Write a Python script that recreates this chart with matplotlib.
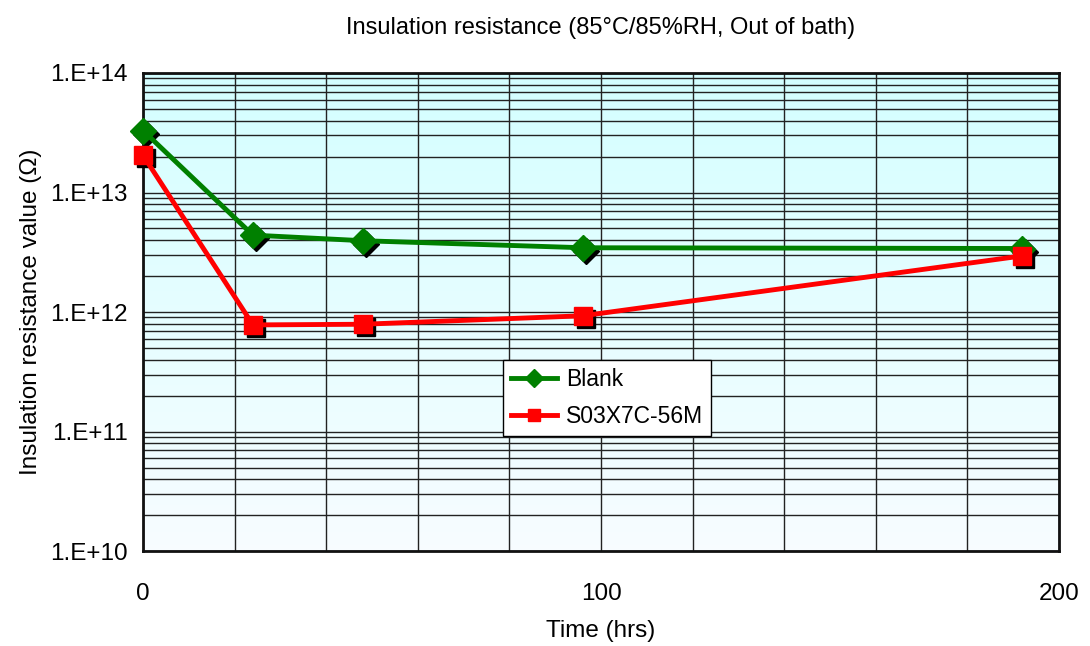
import numpy as np
import matplotlib
matplotlib.use("Agg")
import matplotlib.pyplot as plt
import matplotlib.transforms as mtransforms
from matplotlib.ticker import FixedLocator, FuncFormatter, LogLocator, NullFormatter

plt.rcParams['font.family'] = ['Liberation Sans', 'DejaVu Sans']

# Données
temps = [0, 24, 48, 96, 192]
blank = [3.3e13, 4.4e12, 3.95e12, 3.45e12, 3.4e12]
s03 = [2.05e13, 7.8e11, 7.9e11, 9.3e11, 2.95e12]
noms = ["Blank", "S03X7C-56M"]

fig = plt.figure(figsize=(10.9, 6.46), dpi=100)
ax = fig.add_axes([0.1312, 0.147, 0.8404, 0.740])

# Fond dégradé cyan -> blanc
grad = np.linspace(1, 0, 256).reshape(-1, 1)
haut = np.array([0.83, 1.0, 1.0])
bas = np.array([0.97, 0.99, 1.0])
img = bas + grad[..., None] * (haut - bas)
ax.imshow(img, extent=[0, 1, 0, 1], transform=ax.transAxes, aspect='auto', zorder=0)

ax.set_yscale('log')
ax.set_xlim(0, 200)
ax.set_ylim(1e10, 1e14)

ax.xaxis.set_major_locator(FixedLocator([0, 100, 200]))
ax.xaxis.set_minor_locator(FixedLocator(np.arange(0, 201, 20)))
ax.yaxis.set_major_locator(LogLocator(base=10, numticks=10))
ax.yaxis.set_minor_locator(LogLocator(base=10, subs=np.arange(2, 10), numticks=20))
ax.yaxis.set_major_formatter(FuncFormatter(lambda v, p: "1.E+%d" % round(np.log10(v))))
ax.yaxis.set_minor_formatter(NullFormatter())

ax.grid(True, which='both', color='#222222', linewidth=1.0, zorder=1)
ax.set_axisbelow(True)
ax.tick_params(which='both', length=0, labelsize=17.5)
ax.tick_params(axis='y', pad=11)
ax.tick_params(axis='x', pad=23)
for s in ax.spines.values():
    s.set_linewidth(2)
    s.set_color('#111111')

# Ombres des marqueurs
ombre = mtransforms.offset_copy(ax.transData, fig=fig, x=3, y=-3, units='dots')
ax.plot(temps, blank, 'D', ms=13, color='black', transform=ombre, zorder=3, clip_on=False)
ax.plot(temps, s03, 's', ms=13, color='black', transform=ombre, zorder=3, clip_on=False)

ax.plot(temps, blank, '-D', color='#008000', lw=3.5, ms=13, label=noms[0], zorder=4, clip_on=False)
ax.plot(temps, s03, '-s', color='#ff0000', lw=3.5, ms=13, label=noms[1], zorder=5, clip_on=False)

ax.set_xlabel("Time (hrs)", fontsize=17.5, labelpad=11)
ax.set_ylabel("Insulation resistance value (Ω)", fontsize=17.5, labelpad=6)
ax.set_title("Insulation resistance (85°C/85%RH, Out of bath)", fontsize=17, pad=28)

leg = ax.legend(loc='upper left', bbox_to_anchor=(0.393, 0.40), fontsize=16.5,
                fancybox=False, framealpha=1, edgecolor='black', markerscale=0.7,
                handlelength=2.0, handletextpad=0.4, borderpad=0.35, labelspacing=0.6,
                borderaxespad=0)
leg.get_frame().set_linewidth(1)

fig.savefig("out.png", dpi=100)
